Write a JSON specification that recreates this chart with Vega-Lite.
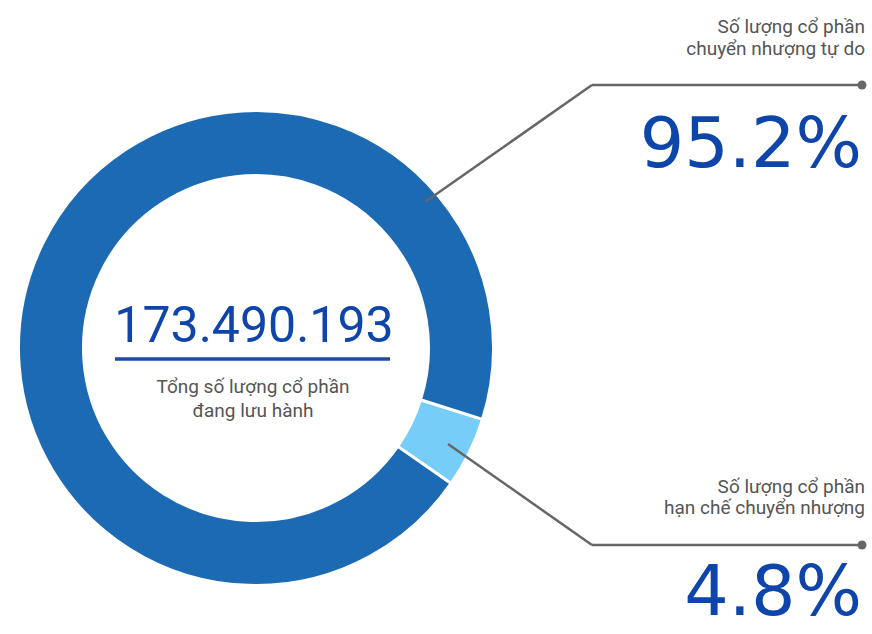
{
  "$schema": "https://vega.github.io/schema/vega-lite/v6.json",
  "width": 872,
  "height": 634,
  "padding": 0,
  "autosize": {"type": "none"},
  "background": "white",
  "config": {"view": {"stroke": null}},
  "datasets": {
    "shares": [
      {"segment": "Số lượng cổ phần\nhạn chế chuyển nhượng", "share": 0.048, "order": 1},
      {"segment": "Số lượng cổ phần\nchuyển nhượng tự do", "share": 0.952, "order": 2}
    ],
    "total": [
      {"value": "173.490.193", "caption": "Tổng số lượng cổ phần\nđang lưu hành"}
    ]
  },
  "layer": [
    {
      "data": {"name": "shares"},
      "mark": {"type": "arc", "innerRadius": 172.5, "outerRadius": 237.5, "stroke": "white", "strokeWidth": 3, "strokeJoin": "bevel"},
      "encoding": {
        "theta": {"field": "share", "type": "quantitative", "stack": true, "scale": {"range": [1.876, 8.159]}},
        "order": {"field": "order", "type": "quantitative"},
        "color": {"field": "segment", "type": "nominal", "legend": null,
          "scale": {"domain": ["Số lượng cổ phần\nhạn chế chuyển nhượng", "Số lượng cổ phần\nchuyển nhượng tự do"], "range": ["#76CDF7", "#1D6AB4"]}},
        "x": {"datum": 256, "type": "quantitative", "axis": null, "scale": {"domain": [0, 872], "nice": false, "zero": false}},
        "y": {"datum": 348, "type": "quantitative", "axis": null, "scale": {"domain": [0, 634], "nice": false, "zero": false, "reverse": true}}
      }
    },
    {
      "data": {"name": "total"},
      "mark": {"type": "text", "font": "Roboto", "fontSize": 50, "color": "#0D45AA", "align": "center", "baseline": "alphabetic"},
      "encoding": {
        "text": {"field": "value"},
        "x": {"datum": 254, "type": "quantitative", "axis": null},
        "y": {"datum": 342, "type": "quantitative", "axis": null}
      }
    },
    {
      "data": {"name": "total"},
      "mark": {"type": "rule", "color": "#1A4BA8", "strokeWidth": 3.5},
      "encoding": {
        "x": {"datum": 115, "type": "quantitative", "axis": null},
        "x2": {"datum": 390},
        "y": {"datum": 359, "type": "quantitative", "axis": null}
      }
    },
    {
      "data": {"name": "total"},
      "mark": {"type": "text", "font": "Roboto", "fontSize": 19, "color": "#555555", "align": "center", "baseline": "alphabetic", "lineBreak": "\n", "lineHeight": 24},
      "encoding": {
        "text": {"field": "caption"},
        "x": {"datum": 253, "type": "quantitative", "axis": null},
        "y": {"datum": 393, "type": "quantitative", "axis": null}
      }
    },
    {
      "data": {"name": "total"},
      "mark": {"type": "rule", "color": "#666666", "strokeWidth": 2.5},
      "encoding": {
        "x": {"datum": 425, "type": "quantitative", "axis": null},
        "y": {"datum": 202, "type": "quantitative", "axis": null},
        "x2": {"datum": 592},
        "y2": {"datum": 85}
      }
    },
    {
      "data": {"name": "total"},
      "mark": {"type": "rule", "color": "#666666", "strokeWidth": 2.5},
      "encoding": {
        "x": {"datum": 592, "type": "quantitative", "axis": null},
        "y": {"datum": 85, "type": "quantitative", "axis": null},
        "x2": {"datum": 862},
        "y2": {"datum": 85}
      }
    },
    {
      "data": {"name": "total"},
      "mark": {"type": "point", "filled": true, "color": "#666666", "size": 80, "opacity": 1},
      "encoding": {
        "x": {"datum": 862, "type": "quantitative", "axis": null},
        "y": {"datum": 85, "type": "quantitative", "axis": null}
      }
    },
    {
      "data": {"name": "total"},
      "mark": {"type": "rule", "color": "#666666", "strokeWidth": 2.5},
      "encoding": {
        "x": {"datum": 448, "type": "quantitative", "axis": null},
        "y": {"datum": 444, "type": "quantitative", "axis": null},
        "x2": {"datum": 592},
        "y2": {"datum": 545}
      }
    },
    {
      "data": {"name": "total"},
      "mark": {"type": "rule", "color": "#666666", "strokeWidth": 2.5},
      "encoding": {
        "x": {"datum": 592, "type": "quantitative", "axis": null},
        "y": {"datum": 545, "type": "quantitative", "axis": null},
        "x2": {"datum": 862},
        "y2": {"datum": 545}
      }
    },
    {
      "data": {"name": "total"},
      "mark": {"type": "point", "filled": true, "color": "#666666", "size": 80, "opacity": 1},
      "encoding": {
        "x": {"datum": 862, "type": "quantitative", "axis": null},
        "y": {"datum": 545, "type": "quantitative", "axis": null}
      }
    },
    {
      "data": {"name": "shares"},
      "transform": [{"filter": "datum.order == 2"}],
      "mark": {"type": "text", "font": "Roboto", "fontSize": 19, "color": "#555555", "align": "right", "baseline": "alphabetic", "lineBreak": "\n", "lineHeight": 22},
      "encoding": {
        "text": {"field": "segment"},
        "x": {"datum": 865, "type": "quantitative", "axis": null},
        "y": {"datum": 33, "type": "quantitative", "axis": null}
      }
    },
    {
      "data": {"name": "shares"},
      "transform": [{"filter": "datum.order == 1"}],
      "mark": {"type": "text", "font": "Roboto", "fontSize": 19, "color": "#555555", "align": "right", "baseline": "alphabetic", "lineBreak": "\n", "lineHeight": 21},
      "encoding": {
        "text": {"field": "segment"},
        "x": {"datum": 865, "type": "quantitative", "axis": null},
        "y": {"datum": 493, "type": "quantitative", "axis": null}
      }
    },
    {
      "data": {"name": "shares"},
      "transform": [{"filter": "datum.order == 2"}],
      "mark": {"type": "text", "font": "DejaVu Sans", "fontSize": 70, "color": "#0D45AA", "align": "right", "baseline": "alphabetic"},
      "encoding": {
        "text": {"field": "share", "type": "quantitative", "format": ".1%"},
        "x": {"datum": 862, "type": "quantitative", "axis": null},
        "y": {"datum": 167, "type": "quantitative", "axis": null}
      }
    },
    {
      "data": {"name": "shares"},
      "transform": [{"filter": "datum.order == 1"}],
      "mark": {"type": "text", "font": "DejaVu Sans", "fontSize": 70, "color": "#0D45AA", "align": "right", "baseline": "alphabetic"},
      "encoding": {
        "text": {"field": "share", "type": "quantitative", "format": ".1%"},
        "x": {"datum": 862, "type": "quantitative", "axis": null},
        "y": {"datum": 615, "type": "quantitative", "axis": null}
      }
    }
  ]
}
